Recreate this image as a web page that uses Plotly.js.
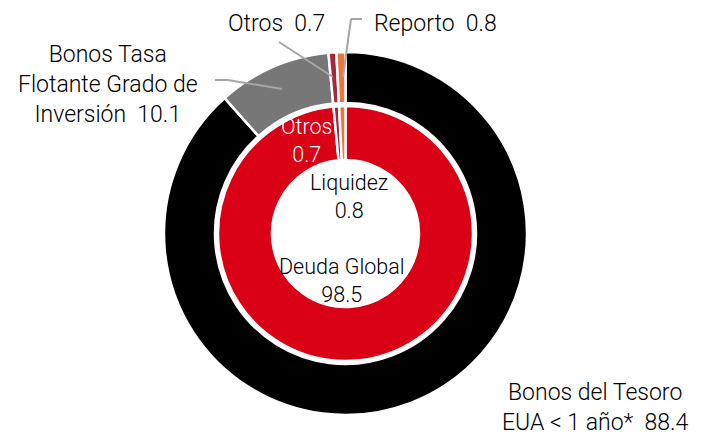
<!DOCTYPE html>
<html>
<head>
<meta charset="utf-8">
<script src="https://cdn.plot.ly/plotly-3.0.1.min.js"></script>
<style>html,body{margin:0;padding:0;background:#fff;}#chart{width:702px;height:439px;}</style>
</head>
<body>
<div id="chart"></div>
<script>
// Outer ring (instrumentos)
var outerLabels = ['Bonos del Tesoro EUA < 1 año*', 'Bonos Tasa Flotante Grado de Inversión', 'Otros', 'Reporto'];
var outerText = ['Bonos del Tesoro<br>EUA &lt; 1 año*', 'Bonos Tasa<br>Flotante Grado de<br>Inversión', 'Otros', 'Reporto'];
var outerValues = [88.4, 10.1, 0.7, 0.8];
var outerColors = ['#000000', '#777777', '#a6263e', '#ea7639'];

// Inner ring (estrategia)
var innerLabels = ['Deuda Global', 'Otros', 'Liquidez'];
var innerText = ['Deuda Global', 'Otros', 'Liquidez'];
var innerValues = [98.5, 0.7, 0.8];
var innerColors = ['#da0016', '#a6263e', '#ea7639'];

var W = 702, H = 439;
function px(x) { return x / W; }
function py(y) { return 1 - y / H; }

var cx = 345.5, cy = 233.5, rOut = 181.5, rIn = 127.5;
function dom(r) {
  return { x: [px(cx - r), px(cx + r)], y: [py(cy + r), py(cy - r)] };
}

var traces = [
  {
    type: 'pie', labels: outerLabels, values: outerValues, sort: false,
    direction: 'clockwise', rotation: 0, hole: 130.5 / 181.5,
    marker: { colors: outerColors, line: { color: '#ffffff', width: 2.5 } },
    textinfo: 'none', hoverinfo: 'label+value', domain: dom(rOut), showlegend: false
  },
  {
    type: 'pie', labels: innerLabels, values: innerValues, sort: false,
    direction: 'clockwise', rotation: 0, hole: 73.5 / 127.5,
    marker: { colors: innerColors, line: { color: '#ffffff', width: 2.5 } },
    textinfo: 'none', hoverinfo: 'label+value', domain: dom(rIn), showlegend: false
  }
];

var fontName = 'Roboto, "Liberation Sans", sans-serif';
var gap = '\u00a0\u00a0';
function ann(text, x, y, color, size) {
  return {
    text: text, x: px(x), y: py(y), xref: 'paper', yref: 'paper',
    xanchor: 'center', yanchor: 'middle', showarrow: false, align: 'center',
    font: { family: fontName, size: size, color: color, weight: 300 }
  };
}

var annotations = [
  ann(outerText[0] + gap + outerValues[0], 595, 407, '#000', 23),
  ann(outerText[1] + gap + outerValues[1], 108, 84, '#000', 23),
  ann(outerText[2] + gap + outerValues[2], 276, 23, '#000', 23),
  ann(outerText[3] + gap + outerValues[3], 435, 23, '#000', 23),
  ann(innerText[1] + '<br>' + innerValues[1], 306, 140, '#fff', 21.5),
  ann(innerText[2] + '<br>' + innerValues[2], 349, 196, '#000', 21.5),
  ann(innerText[0] + '<br>' + innerValues[0], 342, 280, '#000', 21.5)
];

var lineStyle = { color: '#a6a6a6', width: 2 };
function seg(x0, y0, x1, y1) {
  return { type: 'line', xref: 'paper', yref: 'paper', x0: px(x0), y0: py(y0), x1: px(x1), y1: py(y1), line: lineStyle };
}
var shapes = [
  seg(215, 80, 228, 80), seg(228, 80, 282, 89),
  seg(279, 42, 333, 77),
  seg(362, 19, 351, 19), seg(351, 19, 343, 77)
];

var layout = {
  width: W, height: H,
  margin: { l: 0, r: 0, t: 0, b: 0 },
  paper_bgcolor: '#ffffff', plot_bgcolor: '#ffffff',
  showlegend: false,
  annotations: annotations,
  shapes: shapes
};

Plotly.newPlot('chart', traces, layout, { displayModeBar: false, staticPlot: true });
</script>
</body>
</html>
